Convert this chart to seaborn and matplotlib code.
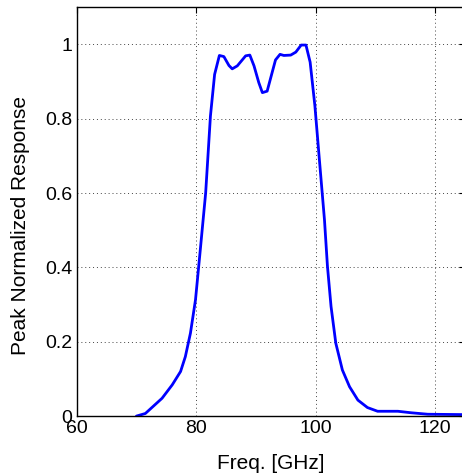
import matplotlib
matplotlib.use("Agg")
import matplotlib.pyplot as plt
import seaborn as sns
import pandas as pd

freq_ghz = [70.0, 71.5, 74.3, 76.0, 77.4, 78.2, 79.05, 79.9, 80.7, 81.6, 82.4, 83.1,
            83.9, 84.65, 85.5, 86.05, 86.9, 88.3, 89.0, 89.7, 90.5, 91.1, 91.9,
            93.3, 94.06, 94.7, 95.85, 96.7, 97.6, 98.4, 99.1, 99.9, 100.6, 101.5,
            102.0, 102.6, 103.4, 104.5, 105.7, 107.1, 108.7, 110.4, 112.7, 113.8,
            116.0, 118.8, 125.0]
response = [0.0, 0.007, 0.048, 0.084, 0.12, 0.16, 0.223, 0.313, 0.447, 0.60, 0.807, 0.919,
            0.970, 0.967, 0.943, 0.934, 0.942, 0.969, 0.971, 0.942, 0.897, 0.870, 0.874,
            0.958, 0.973, 0.970, 0.971, 0.979, 0.998, 0.998, 0.952, 0.834, 0.699, 0.528,
            0.403, 0.295, 0.196, 0.124, 0.079, 0.043, 0.023, 0.013, 0.013, 0.013,
            0.009, 0.005, 0.004]

x_ticks = [60, 80, 100, 120]
y_ticks = [0, 0.2, 0.4, 0.6, 0.8, 1.0]
y_tick_labels = ["0", "0.2", "0.4", "0.6", "0.8", "1"]

df = pd.DataFrame({"freq": freq_ghz, "resp": response})

sns.set_style("white")
plt.rcParams['font.family'] = ['Liberation Sans', 'DejaVu Sans']

fig = plt.figure(figsize=(4.62, 4.75), dpi=100)
ax = fig.add_axes([0.166, 0.124, 0.84, 0.861])
sns.lineplot(data=df, x="freq", y="resp", ax=ax, color="#0000ff", linewidth=2.0)

ax.set_xlim(60, 125)
ax.set_ylim(0, 1.1)
ax.set_xticks(x_ticks)
ax.set_yticks(y_ticks)
ax.set_yticklabels(y_tick_labels)
ax.set_xlabel("Freq. [GHz]", fontsize=15, color="black", labelpad=12)
ax.set_ylabel("Peak Normalized Response", fontsize=15, color="black")
ax.yaxis.set_label_coords(-0.12, 0.465)
ax.tick_params(axis="both", direction="in", labelsize=14, length=4, width=0.8,
               top=True, right=True, colors="black", labelcolor="black", pad=3)
ax.grid(True, color="#444444", linestyle=(0, (1, 3)), linewidth=0.7)
for s in ax.spines.values():
    s.set_color("black")
    s.set_linewidth(1.0)

fig.savefig("out.png", dpi=100)
